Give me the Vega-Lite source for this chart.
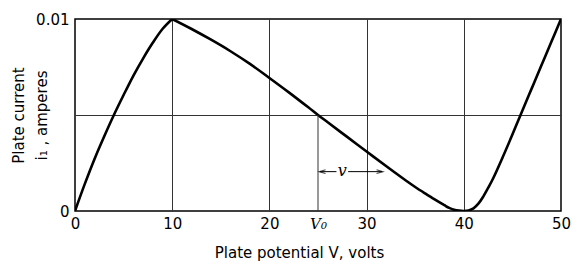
{
  "$schema": "https://vega.github.io/schema/vega-lite/v6.json",
  "width": 486,
  "height": 192,
  "autosize": "none",
  "padding": {"left": 75, "top": 19, "right": 11, "bottom": 50},
  "background": "white",
  "config": {
    "view": {"stroke": "black", "strokeWidth": 1.5},
    "font": "DejaVu Sans"
  },
  "datasets": {
    "curve": [
      {"seg": "a", "V": 0, "i": 0}, {"seg": "a", "V": 1, "i": 0.0014}, {"seg": "a", "V": 2, "i": 0.0027},
      {"seg": "a", "V": 3, "i": 0.00388}, {"seg": "a", "V": 4, "i": 0.005}, {"seg": "a", "V": 5, "i": 0.00604},
      {"seg": "a", "V": 6, "i": 0.00704}, {"seg": "a", "V": 7, "i": 0.00794}, {"seg": "a", "V": 8, "i": 0.00876},
      {"seg": "a", "V": 9, "i": 0.00948}, {"seg": "a", "V": 10, "i": 0.01},
      {"seg": "b", "V": 10, "i": 0.01}, {"seg": "b", "V": 12, "i": 0.00948}, {"seg": "b", "V": 14, "i": 0.00892},
      {"seg": "b", "V": 16, "i": 0.00832}, {"seg": "b", "V": 18, "i": 0.00766}, {"seg": "b", "V": 20, "i": 0.00693},
      {"seg": "b", "V": 22, "i": 0.00618}, {"seg": "b", "V": 24, "i": 0.0054}, {"seg": "b", "V": 25, "i": 0.005},
      {"seg": "b", "V": 26, "i": 0.00462}, {"seg": "b", "V": 28, "i": 0.00386}, {"seg": "b", "V": 30, "i": 0.0031},
      {"seg": "b", "V": 32, "i": 0.00234}, {"seg": "b", "V": 34, "i": 0.0016}, {"seg": "b", "V": 35, "i": 0.00125},
      {"seg": "b", "V": 36, "i": 0.00092}, {"seg": "b", "V": 37, "i": 0.0006}, {"seg": "b", "V": 38, "i": 0.0003},
      {"seg": "b", "V": 38.5, "i": 0.00016}, {"seg": "b", "V": 39, "i": 0.00007}, {"seg": "b", "V": 39.5, "i": 0.00002},
      {"seg": "b", "V": 40, "i": 0}, {"seg": "b", "V": 40.5, "i": 0.00003}, {"seg": "b", "V": 41, "i": 0.00014},
      {"seg": "b", "V": 41.5, "i": 0.00038}, {"seg": "b", "V": 42, "i": 0.00075}, {"seg": "b", "V": 42.5, "i": 0.0012},
      {"seg": "b", "V": 43, "i": 0.00168}, {"seg": "b", "V": 44, "i": 0.0028}, {"seg": "b", "V": 45, "i": 0.00398},
      {"seg": "b", "V": 46, "i": 0.0052}, {"seg": "b", "V": 47, "i": 0.0064}, {"seg": "b", "V": 48, "i": 0.0076},
      {"seg": "b", "V": 49, "i": 0.0088}, {"seg": "b", "V": 50, "i": 0.01}
    ],
    "v0line": [{"V": 25, "i": 0, "i2": 0.005}],
    "arrowseg": [{"V": 25.2, "V2": 26.9, "i": 0.00205}, {"V": 28.1, "V2": 31.6, "i": 0.00205}],
    "heads": [
      {"V": 25.45, "i": 0.00205, "dir": "left"},
      {"V": 31.35, "i": 0.00205, "dir": "right"}
    ],
    "vlabel": [{"V": 27.5, "i": 0.00205, "t": "v"}]
  },
  "layer": [
    {
      "data": {"name": "curve"},
      "mark": {"type": "line", "color": "black", "strokeWidth": 2.6, "interpolate": "catmull-rom", "strokeJoin": "round", "clip": true},
      "encoding": {
        "detail": {"field": "seg"},
        "x": {
          "field": "V", "type": "quantitative",
          "scale": {"domain": [0, 50], "nice": false},
          "axis": {
            "values": [0, 10, 20, 25, 30, 40, 50],
            "labelExpr": "datum.value == 25 ? 'V₀' : datum.label",
            "labelFont": {"condition": {"test": "datum.value == 25", "value": "DejaVu Serif"}, "value": "DejaVu Sans"},
            "labelFontStyle": {"condition": {"test": "datum.value == 25", "value": "italic"}, "value": "normal"},
            "labelFontSize": 15,
            "labelColor": "black",
            "labelPadding": 5,
            "labelFlush": false,
            "ticks": false,
            "domain": false,
            "grid": true,
            "gridColor": {"condition": {"test": "datum.value == 25 || datum.value == 0 || datum.value == 50", "value": "transparent"}, "value": "#333"},
            "gridWidth": 1,
            "gridOpacity": 1,
            "title": "Plate potential V, volts",
            "titleFont": "DejaVu Sans",
            "titleFontSize": 15,
            "titleFontWeight": "normal",
            "titleColor": "black",
            "titleX": 224,
            "titleY": 46,
            "titleBaseline": "alphabetic"
          }
        },
        "y": {
          "field": "i", "type": "quantitative",
          "scale": {"domain": [0, 0.01], "nice": false},
          "axis": {
            "values": [0, 0.005, 0.01],
            "labelExpr": "datum.value == 0 ? '0' : datum.value == 0.01 ? '0.01' : ''",
            "labelFontSize": 15,
            "labelColor": "black",
            "labelPadding": 6,
            "labelFlush": false,
            "ticks": false,
            "domain": false,
            "grid": true,
            "gridColor": {"condition": {"test": "datum.value == 0.005", "value": "#333"}, "value": "transparent"},
            "gridWidth": 1,
            "gridOpacity": 1,
            "title": ["Plate current", "i₁ , amperes"],
            "titleFont": "DejaVu Sans",
            "titleFontSize": 15,
            "titleFontWeight": "normal",
            "titleColor": "black",
            "titleLineHeight": 23,
            "titleX": -52,
            "titleY": 96,
            "titleAngle": -90,
            "titleAlign": "center",
            "titleBaseline": "alphabetic"
          }
        }
      }
    },
    {
      "data": {"name": "v0line"},
      "mark": {"type": "rule", "color": "#333", "strokeWidth": 1},
      "encoding": {
        "x": {"field": "V", "type": "quantitative"},
        "y": {"field": "i", "type": "quantitative"},
        "y2": {"field": "i2"}
      }
    },
    {
      "data": {"name": "arrowseg"},
      "mark": {"type": "rule", "color": "black", "strokeWidth": 1},
      "encoding": {
        "x": {"field": "V", "type": "quantitative"},
        "x2": {"field": "V2"},
        "y": {"field": "i", "type": "quantitative"}
      }
    },
    {
      "data": {"name": "heads"},
      "transform": [{"filter": "datum.dir == 'left'"}],
      "mark": {"type": "point", "shape": "M1,-0.6L-1,0L1,0.6", "filled": false, "stroke": "black", "strokeWidth": 1.2, "size": 40},
      "encoding": {
        "x": {"field": "V", "type": "quantitative"},
        "y": {"field": "i", "type": "quantitative"}
      }
    },
    {
      "data": {"name": "heads"},
      "transform": [{"filter": "datum.dir == 'right'"}],
      "mark": {"type": "point", "shape": "M-1,-0.6L1,0L-1,0.6", "filled": false, "stroke": "black", "strokeWidth": 1.2, "size": 40},
      "encoding": {
        "x": {"field": "V", "type": "quantitative"},
        "y": {"field": "i", "type": "quantitative"}
      }
    },
    {
      "data": {"name": "vlabel"},
      "mark": {"type": "text", "font": "DejaVu Serif", "fontStyle": "italic", "fontSize": 16, "color": "black", "baseline": "middle", "align": "center", "dy": -1},
      "encoding": {
        "x": {"field": "V", "type": "quantitative"},
        "y": {"field": "i", "type": "quantitative"},
        "text": {"field": "t"}
      }
    }
  ]
}
